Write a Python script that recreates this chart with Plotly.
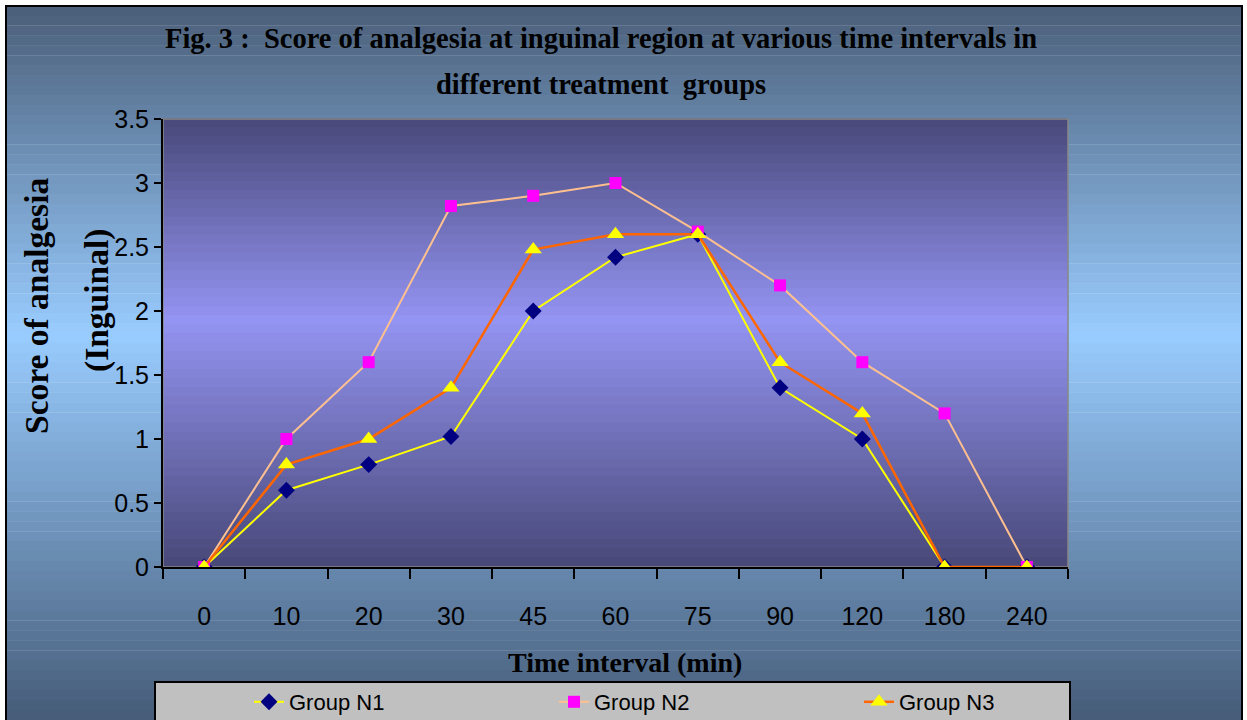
import plotly.graph_objects as go
import numpy as np

categories = ["0", "10", "20", "30", "45", "60", "75", "90", "120", "180", "240"]
group_n1 = [0, 0.6, 0.8, 1.02, 2.0, 2.42, 2.6, 1.4, 1.0, 0, 0]
group_n2 = [0, 1.0, 1.6, 2.82, 2.9, 3.0, 2.62, 2.2, 1.6, 1.2, 0]
group_n3 = [0, 0.8, 1.0, 1.4, 2.48, 2.6, 2.6, 1.6, 1.2, 0, 0]

W, H = 1247, 720
ML, MR, MT, MB = 163, 179, 119, 153
PW = W - ML - MR
PH = H - MT - MB


def lerp(c1, c2, t):
    return tuple(int(round(a + (b - a) * t)) for a, b in zip(c1, c2))


def grad(stops, t):
    for i in range(len(stops) - 1):
        p0, c0 = stops[i]
        p1, c1 = stops[i + 1]
        if p0 <= t <= p1:
            return lerp(c0, c1, (t - p0) / (p1 - p0))
    return stops[-1][1]


def px_x(x):
    return (x - ML) / PW


def px_y(y):
    return (H - MB - y) / PH


shapes = []
# outer frame gradient
outer_stops = [(0.0, (0x4a, 0x5e, 0x78)), (0.46, (0x99, 0xcc, 0xff)), (1.0, (0x46, 0x5c, 0x78))]
n = 72
top_px, bot_px = 6, 720
left_px, right_px = 6, 1242
for i in range(n):
    y0 = top_px + (bot_px - top_px) * i / n
    y1 = top_px + (bot_px - top_px) * (i + 1) / n
    c = grad(outer_stops, (i + 0.5) / n)
    shapes.append(dict(type="rect", xref="paper", yref="paper", layer="below",
                       x0=px_x(left_px), x1=px_x(right_px),
                       y0=px_y(y1), y1=px_y(y0) + 0.001,
                       fillcolor="rgb(%d,%d,%d)" % c, line=dict(width=0)))
shapes.append(dict(type="rect", xref="paper", yref="paper", layer="below",
                   x0=px_x(left_px), x1=px_x(right_px),
                   y0=px_y(740), y1=px_y(top_px),
                   fillcolor="rgba(0,0,0,0)", line=dict(color="black", width=2)))
# plot area gradient
inner_stops = [(0.0, (0x48, 0x48, 0x7a)), (0.45, (0x94, 0x94, 0xf2)), (1.0, (0x48, 0x48, 0x78))]
m = 50
for i in range(m):
    c = grad(inner_stops, (i + 0.5) / m)
    shapes.append(dict(type="rect", xref="x domain", yref="y domain", layer="below",
                       x0=0, x1=1, y0=1 - (i + 1) / m, y1=1 - i / m + 0.002,
                       fillcolor="rgb(%d,%d,%d)" % c, line=dict(width=0)))
shapes.append(dict(type="rect", xref="x domain", yref="y domain", layer="below",
                   x0=0, x1=1, y0=0, y1=1, fillcolor="rgba(0,0,0,0)",
                   line=dict(color="#888888", width=1.5)))
# legend box
shapes.append(dict(type="rect", xref="paper", yref="paper", layer="below",
                   x0=px_x(155), x1=px_x(1070),
                   y0=px_y(730), y1=px_y(682),
                   fillcolor="#c0c0c0", line=dict(color="black", width=2)))

fig = go.Figure()
fig.add_trace(go.Scatter(x=categories, y=group_n1, name="Group N1", mode="lines+markers",
                         line=dict(color="#ffff00", width=2),
                         marker=dict(symbol="diamond", size=13, color="#000080")))
fig.add_trace(go.Scatter(x=categories, y=group_n2, name="Group N2", mode="lines+markers",
                         line=dict(color="#ffc090", width=2),
                         marker=dict(symbol="square", size=12, color="#ff00ff")))
fig.add_trace(go.Scatter(x=categories, y=group_n3, name="Group N3", mode="lines+markers",
                         line=dict(color="#ff6600", width=2.5),
                         marker=dict(symbol="triangle-up", size=15, color="#ffff00")))

title_font = dict(family="Liberation Serif", size=28.5, color="black")
ytitle_font = dict(family="Liberation Serif", size=33.5, color="black")
xtitle_font = dict(family="Liberation Serif", size=28, color="black")
annotations = [
    dict(text="<b>Fig. 3 :  Score of analgesia at inguinal region at various time intervals in</b>",
         xref="paper", yref="paper", x=px_x(601), y=px_y(38),
         showarrow=False, font=title_font, xanchor="center", yanchor="middle"),
    dict(text="<b>different treatment  groups</b>",
         xref="paper", yref="paper", x=px_x(601), y=px_y(85),
         showarrow=False, font=title_font, xanchor="center", yanchor="middle"),
    dict(text="<b>Score of analgesia</b>", textangle=-90,
         xref="paper", yref="paper", x=px_x(36), y=px_y(306),
         showarrow=False, font=ytitle_font, xanchor="center", yanchor="middle"),
    dict(text="<b>(Inguinal)</b>", textangle=-90,
         xref="paper", yref="paper", x=px_x(97), y=px_y(301),
         showarrow=False, font=ytitle_font, xanchor="center", yanchor="middle"),
    dict(text="<b>Time interval (min)</b>",
         xref="paper", yref="paper", x=px_x(625), y=px_y(662),
         showarrow=False, font=xtitle_font, xanchor="center", yanchor="middle"),
]

fig.update_layout(
    width=W, height=H,
    margin=dict(l=ML, r=MR, t=MT, b=MB, autoexpand=False),
    paper_bgcolor="white", plot_bgcolor="rgba(0,0,0,0)",
    shapes=shapes, annotations=annotations,
    showlegend=True,
    legend=dict(orientation="h", x=px_x(1164), y=px_y(702),
                xanchor="right", yanchor="middle", entrywidth=260, entrywidthmode="pixels",
                bgcolor="rgba(0,0,0,0)", borderwidth=0,
                font=dict(family="Liberation Sans", size=22, color="black")),
    font=dict(family="Liberation Sans", color="black"),
)
fig.update_xaxes(type="category", range=[-0.5, len(categories) - 0.5], autorange=False,
                 showgrid=False, showline=True, linecolor="black", linewidth=2,
                 ticks="outside", tickson="boundaries", ticklen=10, tickwidth=2, tickcolor="black",
                 tickfont=dict(family="Liberation Sans", size=25, color="black"),
                 ticklabelstandoff=26, zeroline=False)
fig.update_yaxes(range=[0, 3.5], dtick=0.5, showgrid=False, showline=True, linecolor="black", linewidth=2,
                 ticks="outside", ticklen=7, tickwidth=2, tickcolor="black",
                 tickfont=dict(family="Liberation Sans", size=25, color="black"),
                 zeroline=False)

fig.write_html("out.html")
